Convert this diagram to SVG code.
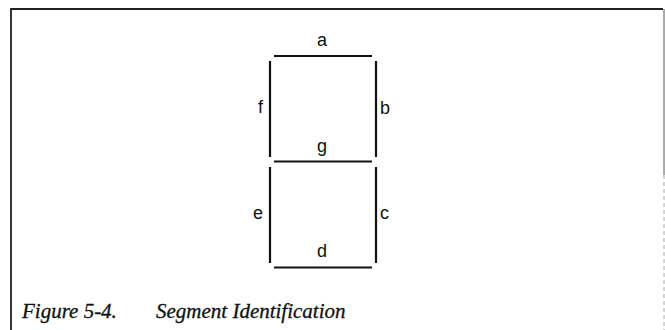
<svg xmlns="http://www.w3.org/2000/svg" width="665" height="330" viewBox="0 0 665 330">
<style>
.seg{stroke:#111;stroke-width:2.2;stroke-linecap:butt;fill:none}
.lbl{font-family:"Liberation Sans",Arial,sans-serif;font-size:18px;fill:#111}
.cap{font-family:"Liberation Serif","Times New Roman",serif;font-style:italic;font-size:21px;fill:#111;stroke:#111;stroke-width:0.3}
.frame{stroke:#222;stroke-width:1.8;fill:none}
</style>
<rect width="665" height="330" fill="#fff"/>
<g id="frame">
<polyline class="frame" points="11,330 11,9 663,9"/>
<line x1="664" y1="9" x2="664" y2="175" stroke="#555" stroke-width="1"/>
<line x1="664" y1="175" x2="664" y2="330" stroke="#aaa" stroke-width="1" stroke-dasharray="4,3"/>
</g>
<g id="connectors">
<line id="seg-a" class="seg" x1="274" y1="56" x2="372" y2="56"/>
<line id="seg-b" class="seg" x1="376" y1="61" x2="376" y2="157"/>
<line id="seg-c" class="seg" x1="376" y1="167" x2="376" y2="263"/>
<line id="seg-d" class="seg" x1="274" y1="267.5" x2="372" y2="267.5"/>
<line id="seg-e" class="seg" x1="270" y1="167" x2="270" y2="263"/>
<line id="seg-f" class="seg" x1="270" y1="61" x2="270" y2="157"/>
<line id="seg-g" class="seg" x1="274" y1="161.5" x2="372" y2="161.5"/>
</g>
<g id="label-a"><text class="lbl" x="322" y="46" text-anchor="middle">a</text></g>
<g id="label-b"><text class="lbl" x="380" y="114">b</text></g>
<g id="label-c"><text class="lbl" x="380" y="219">c</text></g>
<g id="label-d"><text class="lbl" x="322" y="257" text-anchor="middle">d</text></g>
<g id="label-e"><text class="lbl" x="253" y="219">e</text></g>
<g id="label-f"><text class="lbl" x="258" y="113">f</text></g>
<g id="label-g"><text class="lbl" x="322" y="152" text-anchor="middle">g</text></g>
<g id="caption">
<text class="cap" x="22" y="318">Figure 5-4.</text>
<text class="cap" x="156" y="318">Segment Identification</text>
</g>
</svg>
